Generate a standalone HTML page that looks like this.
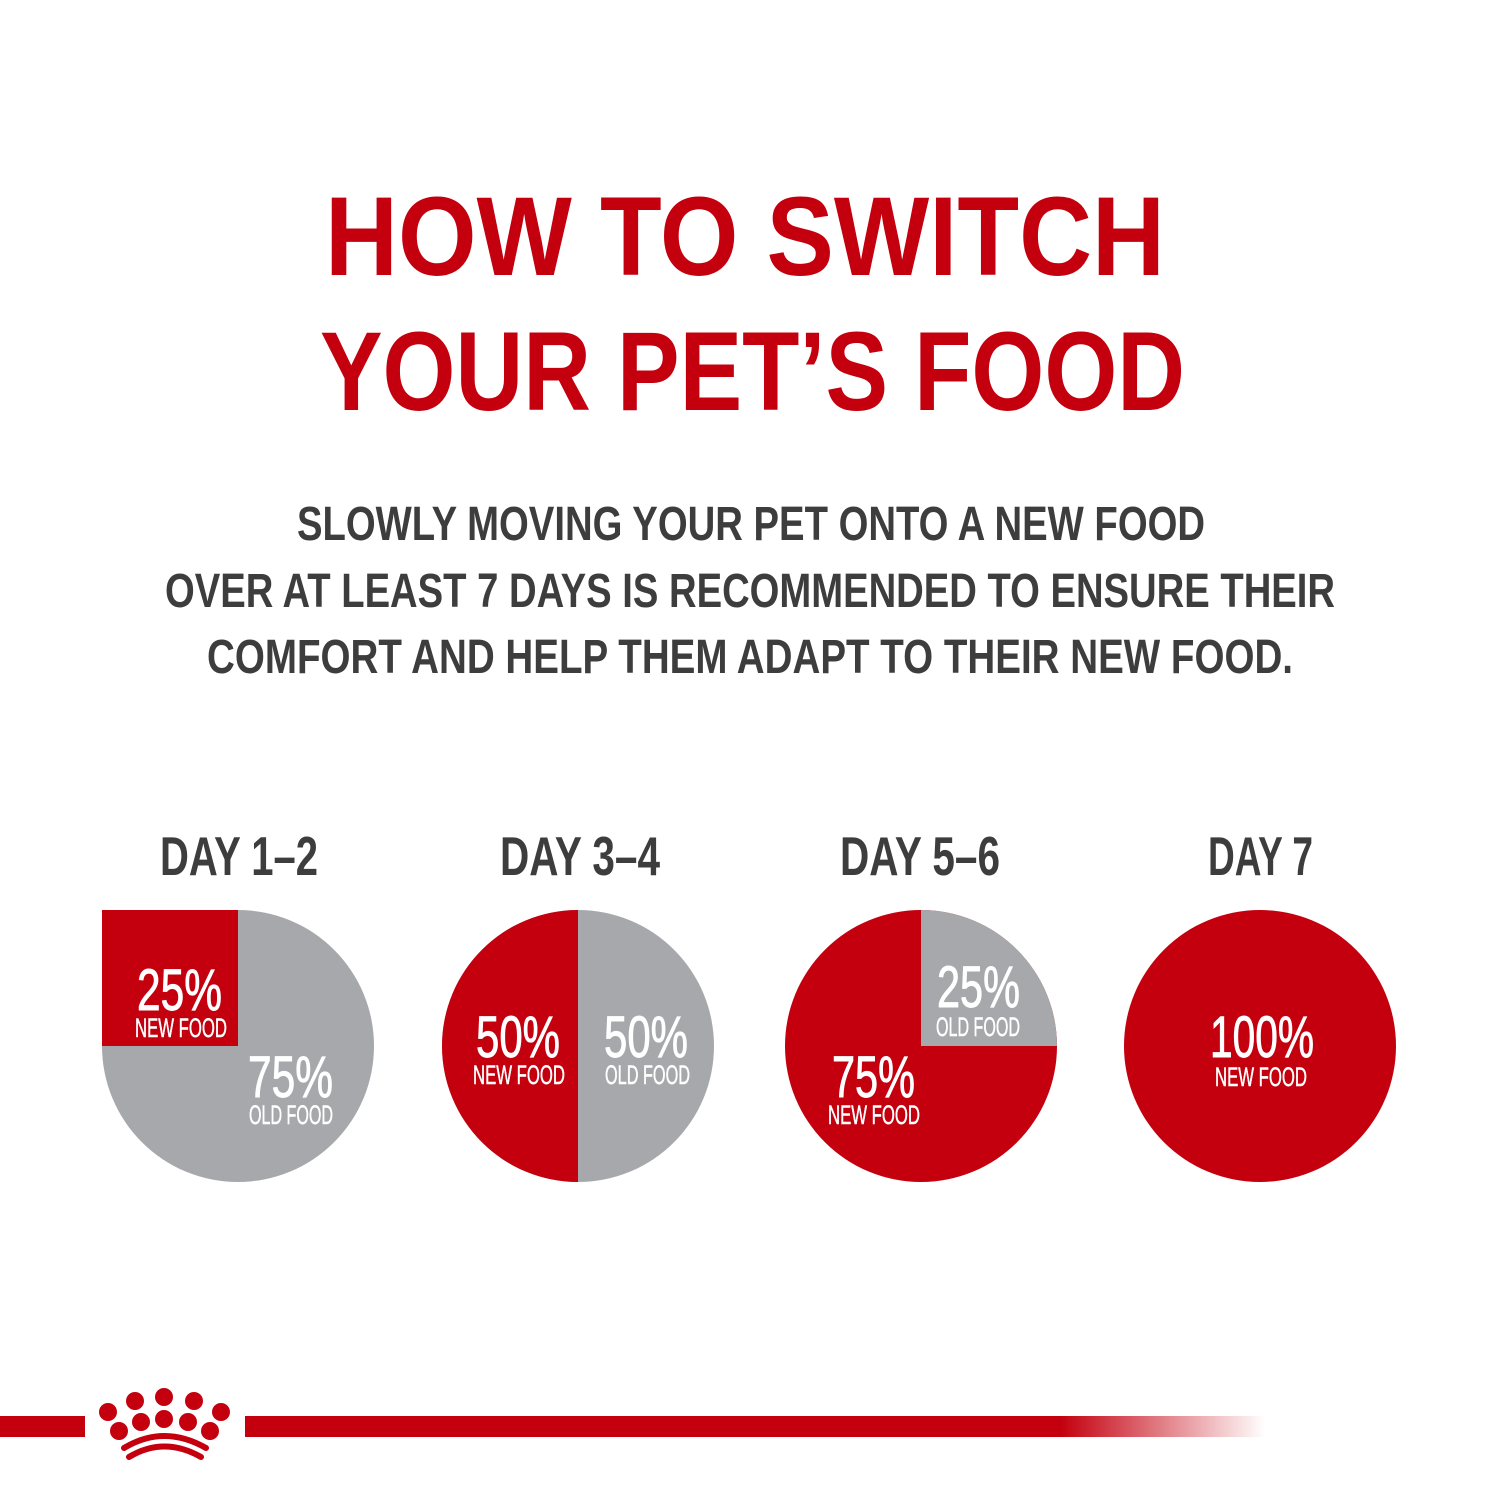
<!DOCTYPE html>
<html><head><meta charset="utf-8"><style>html,body{margin:0;padding:0;background:#fff}svg{display:block}</style></head>
<body>
<svg width="1500" height="1500" viewBox="0 0 1500 1500" xmlns="http://www.w3.org/2000/svg" font-family="Liberation Sans, sans-serif" font-weight="bold">
<defs>
<linearGradient id="g" x1="0" x2="1"><stop offset="0" stop-color="#c4000f"/><stop offset="0.8" stop-color="#c4000f"/><stop offset="1" stop-color="#c4000f" stop-opacity="0"/></linearGradient>
</defs>
<g fill="#c4000f">
<text x="325" y="275" font-size="112" textLength="840" lengthAdjust="spacingAndGlyphs">HOW TO SWITCH</text>
<text x="320" y="410" font-size="112" textLength="865" lengthAdjust="spacingAndGlyphs">YOUR PET’S FOOD</text>
</g>
<g fill="#3d3d3d" font-size="48">
<text x="297" y="540" textLength="908" lengthAdjust="spacingAndGlyphs">SLOWLY MOVING YOUR PET ONTO A NEW FOOD</text>
<text x="165" y="607" textLength="1170" lengthAdjust="spacingAndGlyphs">OVER AT LEAST 7 DAYS IS RECOMMENDED TO ENSURE THEIR</text>
<text x="207" y="673" textLength="1086" lengthAdjust="spacingAndGlyphs">COMFORT AND HELP THEM ADAPT TO THEIR NEW FOOD.</text>
</g>
<g fill="#3d3d3d" font-size="55">
<text x="160" y="875" textLength="158" lengthAdjust="spacingAndGlyphs">DAY 1–2</text>
<text x="500" y="875" textLength="160" lengthAdjust="spacingAndGlyphs">DAY 3–4</text>
<text x="840" y="875" textLength="160" lengthAdjust="spacingAndGlyphs">DAY 5–6</text>
<text x="1208" y="875" textLength="105" lengthAdjust="spacingAndGlyphs">DAY 7</text>
</g>
<circle cx="238" cy="1046" r="136" fill="#a7a8ac"/>
<rect x="102" y="910" width="136" height="136" fill="#c4000f"/>
<circle cx="578" cy="1046" r="136" fill="#a7a8ac"/>
<path d="M578 910 A136 136 0 0 0 578 1182 Z" fill="#c4000f"/>
<circle cx="921" cy="1046" r="136" fill="#c4000f"/>
<path d="M921 1046 L921 910 A136 136 0 0 1 1057 1046 Z" fill="#a7a8ac"/>
<circle cx="1260" cy="1046" r="136" fill="#c4000f"/>
<g fill="#fff" font-weight="normal" stroke="#fff" stroke-width="0.9">
<g font-size="58">
<text x="137" y="1010" textLength="85" lengthAdjust="spacingAndGlyphs">25%</text>
<text x="248" y="1097" textLength="85" lengthAdjust="spacingAndGlyphs">75%</text>
<text x="476" y="1057" textLength="84" lengthAdjust="spacingAndGlyphs">50%</text>
<text x="604" y="1057" textLength="84" lengthAdjust="spacingAndGlyphs">50%</text>
<text x="937" y="1007" textLength="83" lengthAdjust="spacingAndGlyphs">25%</text>
<text x="832" y="1097" textLength="83" lengthAdjust="spacingAndGlyphs">75%</text>
<text x="1210" y="1057" textLength="104" lengthAdjust="spacingAndGlyphs">100%</text>
</g>
<g font-size="27" stroke-width="0.5">
<text x="135" y="1037" textLength="92" lengthAdjust="spacingAndGlyphs">NEW FOOD</text>
<text x="249" y="1124" textLength="84" lengthAdjust="spacingAndGlyphs">OLD FOOD</text>
<text x="473" y="1084" textLength="92" lengthAdjust="spacingAndGlyphs">NEW FOOD</text>
<text x="605" y="1084" textLength="85" lengthAdjust="spacingAndGlyphs">OLD FOOD</text>
<text x="936" y="1036" textLength="84" lengthAdjust="spacingAndGlyphs">OLD FOOD</text>
<text x="828" y="1124" textLength="92" lengthAdjust="spacingAndGlyphs">NEW FOOD</text>
<text x="1215" y="1086" textLength="92" lengthAdjust="spacingAndGlyphs">NEW FOOD</text>
</g>
</g>
<rect x="0" y="1416" width="85" height="21" fill="#c4000f"/>
<rect x="245" y="1416" width="1020" height="21" fill="url(#g)"/>
<g fill="#c4000f">
<circle cx="108" cy="1412" r="9"/><circle cx="135" cy="1401" r="9"/><circle cx="164" cy="1397" r="9"/><circle cx="194" cy="1401" r="9"/><circle cx="221" cy="1412" r="9"/>
<circle cx="119" cy="1431" r="9"/><circle cx="141" cy="1422" r="9"/><circle cx="164" cy="1419" r="9"/><circle cx="188" cy="1422" r="9"/><circle cx="210" cy="1431" r="9"/>
</g>
<g fill="none" stroke="#c4000f" stroke-width="6" stroke-linecap="round">
<path d="M124 1448 Q164 1424 206 1448"/>
<path d="M129 1457 Q164 1436 201 1457"/>
</g>
</svg>
</body></html>
